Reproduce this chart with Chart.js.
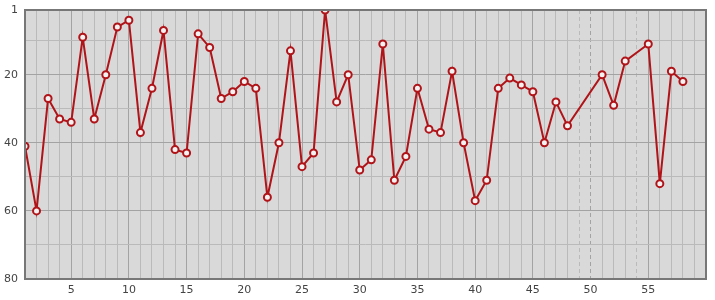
<!DOCTYPE html>
<html>
<head>
<meta charset="utf-8">
<script src="https://cdn.jsdelivr.net/npm/chart.js@4.4.0/dist/chart.umd.min.js"></script>
<style>
  html, body { margin: 0; padding: 0; background: #fff; }
  #wrap { width: 715px; height: 300px; }
</style>
</head>
<body>
<div id="wrap"><canvas id="rankChart"></canvas></div>
<script>
// данные графика
const days = [1, 2, 3, 4, 5, 6, 7, 8, 9, 10, 11, 12, 13, 14, 15, 16, 17, 18, 19, 20,
    21, 22, 23, 24, 25, 26, 27, 28, 29, 30, 31, 32, 33, 34, 35, 36, 37, 38, 39, 40,
    41, 42, 43, 44, 45, 46, 47, 48, 49, 50, 51, 52, 53, 54, 55, 56, 57, 58];
const ranks = [41, 60, 27, 33, 34, 9, 33, 20, 6, 4, 37, 24, 7, 42, 43, 8, 12, 27, 25, 22,
    24, 56, 40, 13, 47, 43, 1, 28, 20, 48, 45, 11, 51, 44, 24, 36, 37, 19, 40, 57,
    51, 24, 21, 23, 25, 40, 28, 35, null, null, 20, 29, 16, null, 11, 52, 19, 22];
const xLabels = [5, 10, 15, 20, 25, 30, 35, 40, 45, 50, 55];
const yTicks = [1, 10, 20, 30, 40, 50, 60, 70, 80];
const yLabels = [1, 20, 40, 60, 80];

// дни без данных -> пунктирные линии
const missingDays = days.filter((d, i) => ranks[i] === null);

// фон и рамка области графика
const framePlugin = {
    id: "frame",
    beforeDraw(chart) {
        const a = chart.chartArea;
        const c = chart.ctx;
        c.save();
        c.fillStyle = "#d9d9d9";
        c.fillRect(a.left, a.top, a.right - a.left, a.bottom - a.top);
        c.restore();
    },
    afterDatasetsDraw(chart) {
        const a = chart.chartArea;
        const c = chart.ctx;
        c.save();
        c.strokeStyle = "#777";
        c.lineWidth = 2;
        c.strokeRect(a.left, a.top, a.right - a.left, a.bottom - a.top);
        c.restore();
    }
};

const ctx = document.getElementById("rankChart").getContext("2d");

new Chart(ctx, {
    type: "line",
    data: {
        datasets: [{
            data: days.map((d, i) => ({ x: d, y: ranks[i] })),
            borderColor: "#b01419",
            borderWidth: 2,
            pointRadius: 3.5,
            pointBorderWidth: 2,
            pointBackgroundColor: "#f2f2f2",
            pointBorderColor: "#b01419",
            spanGaps: true,
            tension: 0
        }]
    },
    options: {
        responsive: true,
        maintainAspectRatio: false,
        animation: false,
        layout: { padding: { top: 10, right: 9, left: 0, bottom: 0 } },
        plugins: {
            legend: { display: false },
            tooltip: { enabled: false }
        },
        scales: {
            x: {
                type: "linear",
                min: 1,
                max: 60,
                afterFit(scale) {
                    scale.height = 21;
                    scale.paddingLeft = 0;
                    scale.paddingRight = 0;
                },
                ticks: {
                    stepSize: 1,
                    autoSkip: false,
                    maxRotation: 0,
                    padding: 5,
                    color: "#444",
                    font: { family: "DejaVu Sans", size: 11 },
                    callback: v => (xLabels.includes(v) ? v : "")
                },
                grid: {
                    drawTicks: false,
                    color: c => (c.tick && c.tick.value % 5 === 0 ? "#a3a3a3" : "#bababa"),
                    lineWidth: 1
                },
                border: {
                    display: false,
                    dash: c => (c.tick && missingDays.includes(c.tick.value) ? [4, 3] : [])
                }
            },
            y: {
                reverse: true,
                min: 1,
                max: 80,
                afterFit(scale) {
                    scale.width = 25;
                    scale.paddingTop = 0;
                    scale.paddingBottom = 0;
                },
                afterBuildTicks(scale) {
                    scale.ticks = yTicks.map(v => ({ value: v }));
                },
                ticks: {
                    autoSkip: false,
                    padding: 7,
                    color: "#444",
                    font: { family: "DejaVu Sans", size: 11 },
                    callback: v => (yLabels.includes(v) ? v : "")
                },
                grid: {
                    drawTicks: false,
                    color: c => (c.tick && c.tick.value % 20 === 0 ? "#a3a3a3" : "#bababa"),
                    lineWidth: 1
                },
                border: { display: false }
            }
        }
    },
    plugins: [framePlugin]
});
</script>
</body>
</html>
